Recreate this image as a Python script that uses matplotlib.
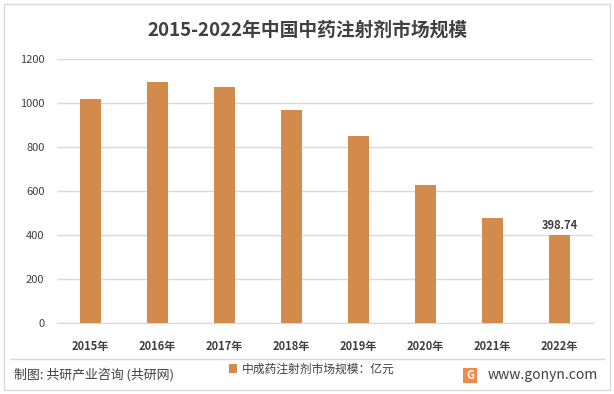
import matplotlib
matplotlib.use("Agg")
import matplotlib.pyplot as plt
from matplotlib.patches import Rectangle
from matplotlib.lines import Line2D

plt.rcParams['font.family'] = ['Noto Sans CJK SC', 'DejaVu Sans']

years = ['2015年', '2016年', '2017年', '2018年', '2019年', '2020年', '2021年', '2022年']
values = [1018, 1095, 1073, 968, 850, 627, 477, 398.74]
series_name = '中成药注射剂市场规模：亿元'
title = '2015-2022年中国中药注射剂市场规模'
yticks = [0, 200, 400, 600, 800, 1000, 1200]

bar_color = '#D38B4D'
text_color = '#404040'

fig = plt.figure(figsize=(6.14, 3.94), dpi=100)
fig.patches.append(Rectangle((0.007, 0.01), 0.986, 0.98, transform=fig.transFigure,
                             fill=False, edgecolor='#D9D9D9', linewidth=1))

ax = fig.add_axes([57/614, (394-323)/394, (593-57)/614, (323-59)/394])
x = range(len(years))
bars = ax.bar(x, values, width=0.32, color=bar_color, zorder=3, label=series_name)
ax.set_xlim(-0.5, len(years) - 0.5)
ax.set_ylim(0, 1200)
ax.set_yticks(yticks)
ax.set_yticklabels([str(v) for v in yticks])
ax.set_xticks(list(x))
ax.set_xticklabels(years)
ax.grid(axis='y', color='#D9D9D9', linewidth=1, zorder=0)
for s in ['top', 'right', 'left']:
    ax.spines[s].set_visible(False)
ax.spines['bottom'].set_color('#D9D9D9')
ax.tick_params(axis='both', length=0, colors=text_color, labelsize=8)
ax.tick_params(axis='x', pad=12)
ax.tick_params(axis='y', pad=9)
for lbl in ax.get_xticklabels():
    lbl.set_fontweight('bold')

ax.text(x[-1], values[-1] + 15, f'{values[-1]:.2f}', ha='center', va='bottom',
        fontsize=8, fontweight='bold', color=text_color)

fig.text(0.5, 1 - 30/394, title, ha='center', va='center', fontsize=13.5,
         fontweight='bold', color=text_color)

# footer separator
fig.add_artist(Line2D([10/614, 604/614], [1 - 359/394, 1 - 359/394],
                      transform=fig.transFigure, color='#D9D9D9', linewidth=1))

leg = fig.legend(handles=[bars], labels=[series_name], loc='center',
                 bbox_to_anchor=(312/614, 1 - 369/394), frameon=False,
                 fontsize=8.5, handlelength=0.7, handleheight=0.7, handletextpad=0.4)
for t in leg.get_texts():
    t.set_color(text_color)

fig.text(14/614, 1 - 375/394, '制图: 共研产业咨询 (共研网)', ha='left', va='center',
         fontsize=9.3, color=text_color)
fig.text(598/614, 1 - 375/394, 'www.gonyn.com', ha='right', va='center',
         fontsize=10, color=text_color)
fig.patches.append(Rectangle((463/614, 1 - 383/394), 14/614, 15/394, transform=fig.transFigure,
                             facecolor='#F08A4B', edgecolor='none'))
fig.text(470/614, 1 - 375.5/394, 'G', ha='center', va='center', fontsize=8,
         fontweight='bold', color='white')

fig.savefig('out.png', dpi=100)
